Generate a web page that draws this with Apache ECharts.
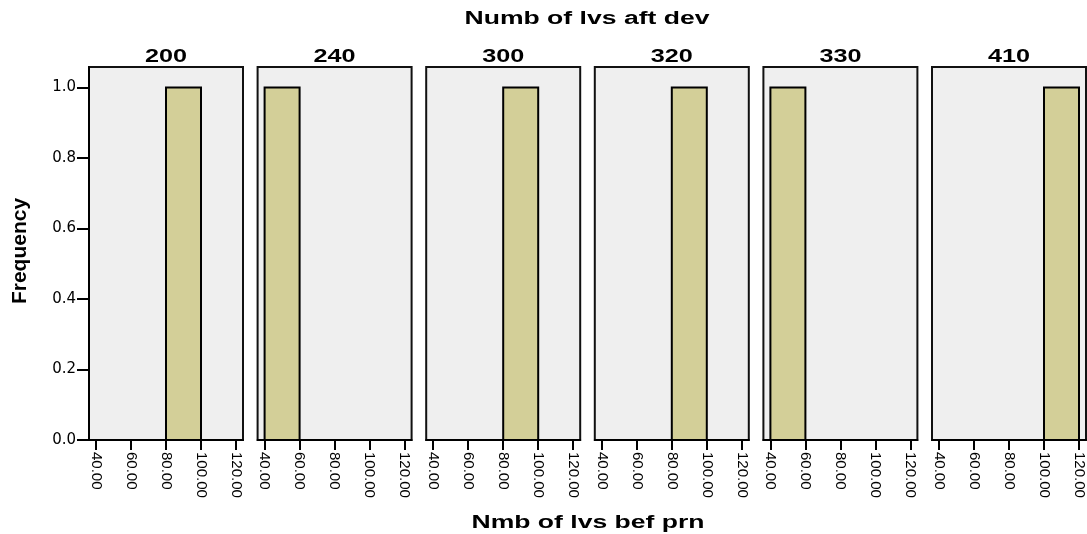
<!DOCTYPE html>
<html>
<head>
<meta charset="utf-8">
<script src="https://cdn.jsdelivr.net/npm/echarts@6/dist/echarts.min.js"></script>
<style>html,body{margin:0;padding:0;background:#fff;}#c{width:1087px;height:534px;}</style>
</head>
<body>
<div id="c"></div>
<script>
const panelLabels = ['200', '240', '300', '320', '330', '410'];
const binStarts = [80, 40, 80, 80, 40, 100];
const binEnds = [100, 60, 100, 100, 60, 120];
const frequencies = [1, 1, 1, 1, 1, 1];
const xTickValues = [40, 60, 80, 100, 120];
const yTickValues = [0, 0.2, 0.4, 0.6, 0.8, 1.0];
const topTitle = 'Numb of lvs aft dev';
const xTitle = 'Nmb of lvs bef prn';
const yTitle = 'Frequency';

const chart = echarts.init(document.getElementById('c'));
const panelLeft0 = 89, panelStep = 168.6, panelW = 154, panelTop = 67, panelH = 373;
const grids = [], xAxes = [], yAxes = [], series = [], graphics = [];
panelLabels.forEach((lab, i) => {
  const left = panelLeft0 + i * panelStep;
  grids.push({left: left, top: panelTop, width: panelW, height: panelH, show: true,
    backgroundColor: '#efefef', borderColor: '#111', borderWidth: 2, containLabel: false});
  xAxes.push({type: 'value', gridIndex: i, min: 36, max: 124,
    splitLine: {show: false},
    axisLine: {show: true, onZero: false, lineStyle: {color: '#000', width: 2}},
    axisTick: {show: true, customValues: xTickValues, length: 10, lineStyle: {color: '#000', width: 2}},
    axisLabel: {show: true, customValues: xTickValues, rotate: -90, margin: 12, color: '#000',
      fontFamily: 'Liberation Sans, Arial, sans-serif', fontSize: 15,
      formatter: v => Number(v).toFixed(2)}});
  yAxes.push({type: 'value', gridIndex: i, min: 0, max: 1.058,
    splitLine: {show: false},
    axisLine: {show: i === 0, lineStyle: {color: '#000', width: 2}},
    axisTick: {show: i === 0, customValues: yTickValues, length: 12, lineStyle: {color: '#000', width: 2}},
    axisLabel: {show: i === 0, customValues: yTickValues, margin: 13, color: '#000',
      fontFamily: 'DejaVu Sans, sans-serif', fontSize: 15, formatter: v => Number(v).toFixed(1)}});
  series.push({type: 'custom', xAxisIndex: i, yAxisIndex: i,
    data: [[binStarts[i], binEnds[i], frequencies[i]]],
    encode: {x: [0, 1], y: 2},
    renderItem: function (params, api) {
      const p0 = api.coord([api.value(0), 0]);
      const p1 = api.coord([api.value(1), api.value(2)]);
      return {type: 'rect', shape: {x: p0[0], y: p1[1], width: p1[0] - p0[0], height: p0[1] - p1[1]},
        style: {fill: '#d3cf98', stroke: '#000', lineWidth: 2}};
    }});
  graphics.push({type: 'text', x: left + panelW / 2, y: 57, scaleX: 1.4,
    style: {text: lab, font: 'bold 18px "Liberation Sans", Arial, sans-serif', fill: '#000',
      textAlign: 'center', textVerticalAlign: 'middle', align: 'center', verticalAlign: 'middle'}});
});
graphics.push({type: 'text', x: 587, y: 19, scaleX: 1.476,
  style: {text: topTitle, font: 'bold 18px "Liberation Sans", Arial, sans-serif', fill: '#000',
    textAlign: 'center', textVerticalAlign: 'middle', align: 'center', verticalAlign: 'middle'}});
graphics.push({type: 'text', x: 588, y: 523, scaleX: 1.475,
  style: {text: xTitle, font: 'bold 18px "Liberation Sans", Arial, sans-serif', fill: '#000',
    textAlign: 'center', textVerticalAlign: 'middle', align: 'center', verticalAlign: 'middle'}});
graphics.push({type: 'text', x: 20, y: 251, rotation: Math.PI / 2,
  style: {text: yTitle, font: 'bold 21px "Liberation Sans", Arial, sans-serif', fill: '#000',
    textAlign: 'center', textVerticalAlign: 'middle', align: 'center', verticalAlign: 'middle'}});

chart.setOption({animation: false, backgroundColor: '#fff', grid: grids, xAxis: xAxes, yAxis: yAxes,
  series: series, graphic: graphics});
</script>
</body>
</html>
